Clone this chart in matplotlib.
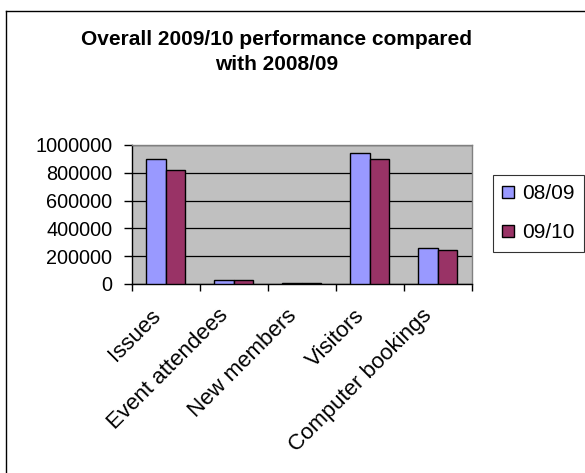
import numpy as np
import matplotlib
matplotlib.use("Agg")
import matplotlib.pyplot as plt
import matplotlib.transforms as mtransforms
from matplotlib.patches import Patch
from matplotlib.lines import Line2D

plt.rcParams["font.family"] = ["Liberation Sans", "DejaVu Sans"]

categories = ["Issues", "Event attendees", "New members", "Visitors", "Computer bookings"]
series_names = ["08/09", "09/10"]
values_0809 = [900000, 27000, 9000, 940000, 260000]
values_0910 = [822000, 26000, 8000, 898000, 247000]
y_ticks = [0, 200000, 400000, 600000, 800000, 1000000]

col_0809 = "#9999FF"
col_0910 = "#993366"

fig = plt.figure(figsize=(5.85, 4.73), dpi=100)
ax = fig.add_axes([0.2251, 0.3996, 0.5812, 0.2939])
ax.set_facecolor("#C0C0C0")

x = np.arange(len(categories))
w = 0.29
ax.bar(x - w / 2, values_0809, w, color=col_0809, edgecolor="black", linewidth=1.0, zorder=3)
ax.bar(x + w / 2, values_0910, w, color=col_0910, edgecolor="black", linewidth=1.0, zorder=3)

ax.set_xlim(-0.5, len(categories) - 0.5)
ax.set_ylim(0, 1000000)
ax.set_yticks(y_ticks)
ax.set_yticklabels([str(t) for t in y_ticks])
ax.yaxis.grid(True, color="black", linewidth=0.9, zorder=1)
ax.set_axisbelow(True)

# category boundaries get tick marks, names sit in between
ax.set_xticks(np.arange(-0.5, len(categories), 1.0))
ax.set_xticklabels([])
ax.set_xticks(x, minor=True)
ax.set_xticklabels(categories, minor=True, rotation=45, ha="right", va="top",
                   rotation_mode="anchor", fontsize=16)
ax.tick_params(axis="x", which="minor", length=0, pad=0)
ax.tick_params(axis="x", which="major", length=5, width=1, direction="out")
ax.tick_params(axis="y", length=6, width=1, direction="out", labelsize=14.3, pad=8)

shift = mtransforms.ScaledTranslation(-0.16, -0.21, fig.dpi_scale_trans)
for lab in ax.get_xticklabels(minor=True):
    lab.set_transform(lab.get_transform() + shift)

for s in ["left", "bottom"]:
    ax.spines[s].set_color("black")
    ax.spines[s].set_linewidth(1.0)
for s in ["top", "right"]:
    ax.spines[s].set_color("#808080")
    ax.spines[s].set_linewidth(1.0)

fig.text(0.4726, 0.890, "Overall 2009/10 performance compared\nwith 2008/09",
         ha="center", va="center", fontsize=15, fontweight="bold", linespacing=1.4)

handles = [Patch(facecolor=col_0809, edgecolor="black", linewidth=1.0),
           Patch(facecolor=col_0910, edgecolor="black", linewidth=1.0)]
leg = fig.legend(handles, series_names, loc="upper left",
                 bbox_to_anchor=(493 / 585, 1 - 175 / 473),
                 fontsize=15, frameon=True, fancybox=False, borderaxespad=0,
                 handlelength=0.55, handleheight=0.55, handletextpad=0.42,
                 labelspacing=0.95, borderpad=0.45)
leg.get_frame().set_edgecolor("black")
leg.get_frame().set_linewidth(0.8)

# outer chart frame, cut off at right and bottom
fig.add_artist(Line2D([6 / 585, 6 / 585], [0, 1 - 11 / 473], color="black", linewidth=1.0,
                      transform=fig.transFigure))
fig.add_artist(Line2D([6 / 585, 1], [1 - 11 / 473, 1 - 11 / 473], color="black", linewidth=1.0,
                      transform=fig.transFigure))

fig.savefig("out.png", dpi=100)
